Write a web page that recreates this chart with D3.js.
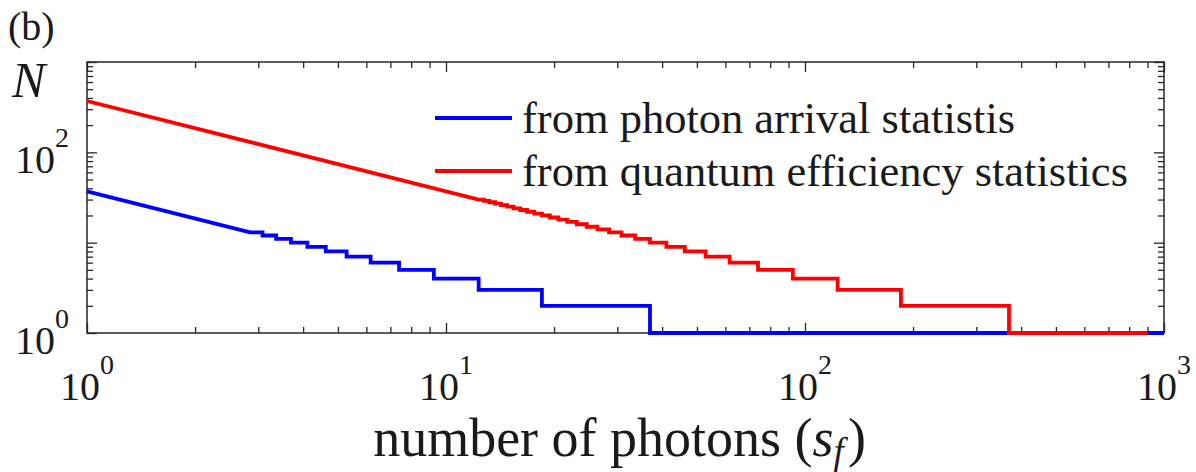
<!DOCTYPE html>
<html>
<head>
<meta charset="utf-8">
<script src="https://cdn.jsdelivr.net/npm/d3@7"></script>
<style>
  body { margin: 0; background: #fff; }
  svg { display: block; }
</style>
</head>
<body>
<script>
var W = 1196, H = 472;
var margin = {top: 62, left: 87, right: 32, bottom: 139},
    width = W - margin.left - margin.right,
    height = H - margin.top - margin.bottom;

// photon arrival statistics: smooth head, then step levels and where each starts
var blueHead = [[1, 37]];
var blueLevels = [13, 12, 11, 10, 9, 8, 7, 6, 5, 4, 3, 2, 1];
var blueStarts = [2.846, 3.083, 3.364, 3.7, 4.111, 4.625, 5.286, 6.167, 7.4, 9.25, 12.33, 18.5, 37];
var blueEnd = 1000;

// quantum efficiency statistics: smooth head, then visible steps
var redHead = [[1, 370]];
var redLevels = [30, 29, 28, 27, 26, 25, 24, 23, 22, 21, 20, 19, 18, 17, 16, 15, 14, 13,
    12, 11, 10, 9, 8, 7, 6, 5, 4, 3, 2, 1];
var redStarts = [12.33, 12.76, 13.21, 13.7, 14.23, 14.8, 15.42, 16.09, 16.82, 17.62, 18.5,
    19.47, 20.56, 21.76, 23.13, 24.67, 26.43, 28.46, 30.83, 33.64, 37, 41.11, 46.25,
    52.86, 61.67, 74, 92.5, 123.3, 185, 370];
var redEnd = 900;

var xMajor = [1, 10, 100, 1000];
var yMajor = [1, 100];
var legendNames = ['from photon arrival statistis', 'from quantum efficiency statistics'];
var colors = ['#0000ff', '#ff0000'];

var serif = 'Liberation Serif';
var ink = '#1a1a1a';

var svg = d3.select('body').append('svg')
    .attr('width', W)
    .attr('height', H)
    .attr('font-family', serif);

var g = svg.append('g')
    .attr('transform', 'translate(' + margin.left + ',' + margin.top + ')');

var x = d3.scaleLog().domain([1, 1000]).range([0, width]);
var y = d3.scaleLog().domain([1, 1000]).range([height, 0]);

var minors = [];
[1, 10, 100].forEach(function(d) {
    for (var k = 2; k <= 9; k++) minors.push(k * d);
});

var axisColor = '#262626';
var majorLen = 10, minorLen = 6;

function drawAxis(axis, tx, ty) {
    var a = g.append('g')
        .attr('transform', 'translate(' + tx + ',' + ty + ')')
        .call(axis);
    a.select('.domain').remove();
    a.selectAll('line').attr('stroke', axisColor).attr('stroke-width', 1.3);
    a.selectAll('text').remove();
}

// minor + major ticks, all pointing inward
drawAxis(d3.axisBottom(x).tickValues(minors).tickSize(-minorLen), 0, height);
drawAxis(d3.axisBottom(x).tickValues(xMajor).tickSize(-majorLen), 0, height);
drawAxis(d3.axisTop(x).tickValues(minors).tickSize(-minorLen), 0, 0);
drawAxis(d3.axisTop(x).tickValues(xMajor).tickSize(-majorLen), 0, 0);
drawAxis(d3.axisLeft(y).tickValues(minors).tickSize(-minorLen), 0, 0);
drawAxis(d3.axisLeft(y).tickValues([1, 10, 100, 1000]).tickSize(-majorLen), 0, 0);
drawAxis(d3.axisRight(y).tickValues(minors).tickSize(-minorLen), width, 0);
drawAxis(d3.axisRight(y).tickValues([1, 10, 100, 1000]).tickSize(-majorLen), width, 0);

g.append('rect')
    .attr('width', width)
    .attr('height', height)
    .attr('fill', 'none')
    .attr('stroke', axisColor)
    .attr('stroke-width', 1.5);

// step paths
function stepPoints(head, starts, levels, end) {
    var pts = head.slice();
    starts.forEach(function(s, i) {
        var next = i < starts.length - 1 ? starts[i + 1] : end;
        pts.push([s, levels[i]]);
        pts.push([next, levels[i]]);
    });
    return pts;
}

var line = d3.line()
    .x(function(d) { return x(d[0]); })
    .y(function(d) { return y(d[1]); });

var series = [
    stepPoints(blueHead, blueStarts, blueLevels, blueEnd),
    stepPoints(redHead, redStarts, redLevels, redEnd)
];

g.selectAll('path.series')
    .data(series)
    .enter()
    .append('path')
    .attr('class', 'series')
    .attr('d', line)
    .attr('fill', 'none')
    .attr('stroke', function(d, i) { return colors[i]; })
    .attr('stroke-width', 3.8)
    .attr('stroke-linejoin', 'miter');

// tick labels 10^k
function powLabel(sel) {
    sel.append('tspan').text('10');
    sel.append('tspan')
        .attr('dy', -26)
        .attr('font-size', 28)
        .text(function(d) { return Math.round(Math.log10(d)); });
}

g.selectAll('text.xl')
    .data(xMajor)
    .enter()
    .append('text')
    .attr('class', 'xl')
    .attr('x', function(d) { return x(d); })
    .attr('y', height + 67)
    .attr('text-anchor', 'middle')
    .attr('font-size', 40)
    .attr('fill', ink)
    .call(powLabel);

g.selectAll('text.yl')
    .data(yMajor)
    .enter()
    .append('text')
    .attr('class', 'yl')
    .attr('x', -18)
    .attr('y', function(d) { return y(d) + 21; })
    .attr('text-anchor', 'end')
    .attr('font-size', 40)
    .attr('fill', ink)
    .call(powLabel);

// legend
var legend = g.append('g')
    .attr('transform', 'translate(' + (435 - margin.left) + ',' + (118 - margin.top) + ')');

legendNames.forEach(function(name, i) {
    legend.append('line')
        .attr('x1', 0).attr('x2', 77)
        .attr('y1', i * 53).attr('y2', i * 53)
        .attr('stroke', colors[i])
        .attr('stroke-width', 3.8);
    legend.append('text')
        .attr('x', 87)
        .attr('y', i * 53 + 15)
        .attr('font-size', 44.5)
        .attr('fill', ink)
        .text(name);
});

// axis titles
var xt = svg.append('text')
    .attr('x', margin.left + width / 2 - 6)
    .attr('y', 456)
    .attr('text-anchor', 'middle')
    .attr('font-size', 54)
    .attr('fill', ink);
xt.append('tspan').text('number of photons (');
xt.append('tspan').attr('font-style', 'italic').text('s');
xt.append('tspan').attr('font-style', 'italic').attr('font-size', 37).attr('dy', 8).text('f');
xt.append('tspan').attr('dx', 4).attr('dy', -8).text(')');

svg.append('text')
    .attr('x', 12)
    .attr('y', 97)
    .attr('font-size', 50)
    .attr('font-style', 'italic')
    .attr('fill', ink)
    .text('N');

svg.append('text')
    .attr('x', 8)
    .attr('y', 40)
    .attr('font-size', 40)
    .attr('fill', ink)
    .text('(b)');
</script>
</body>
</html>
